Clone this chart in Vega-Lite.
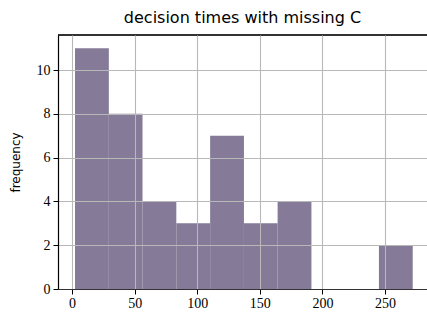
{
  "$schema": "https://vega.github.io/schema/vega-lite/v6.json",
  "autosize": "none",
  "padding": {"left": 58, "top": 35, "right": 0, "bottom": 27},
  "width": 369,
  "height": 254,
  "background": "white",
  "title": {"text": "decision times with missing C", "font": "DejaVu Sans", "fontSize": 16, "fontWeight": "normal", "color": "black", "offset": 8, "anchor": "middle"},
  "config": {"view": {"stroke": null}},
  "data": {"values": [
    {"bin_start": 2.4, "bin_end": 29.4, "count": 11},
    {"bin_start": 29.4, "bin_end": 56.3, "count": 8},
    {"bin_start": 56.3, "bin_end": 83.3, "count": 4},
    {"bin_start": 83.3, "bin_end": 110.3, "count": 3},
    {"bin_start": 110.3, "bin_end": 137.3, "count": 7},
    {"bin_start": 137.3, "bin_end": 164.2, "count": 3},
    {"bin_start": 164.2, "bin_end": 191.2, "count": 4},
    {"bin_start": 191.2, "bin_end": 218.2, "count": 0},
    {"bin_start": 218.2, "bin_end": 245.1, "count": 0},
    {"bin_start": 245.1, "bin_end": 272.1, "count": 2}
  ]},
  "layer": [
    {
      "mark": {"type": "rect", "color": "#857a97", "opacity": 1},
      "encoding": {
        "x": {"field": "bin_start", "type": "quantitative",
          "scale": {"domain": [-11.2, 283.5], "nice": false, "zero": false},
          "axis": {"title": null, "values": [0, 50, 100, 150, 200, 250], "zindex": 1,
            "grid": true, "gridColor": "#b8b8b8", "gridWidth": 1.1,
            "domainColor": "#333333", "domainWidth": 1.2, "tickColor": "black", "tickSize": 5, "tickWidth": 1,
            "labelFont": "Liberation Serif", "labelFontSize": 14, "labelColor": "black", "labelPadding": 2}},
        "x2": {"field": "bin_end"},
        "y": {"field": "count", "type": "quantitative",
          "scale": {"domain": [0, 11.6], "nice": false},
          "axis": {"title": "frequency", "values": [0, 2, 4, 6, 8, 10], "zindex": 1,
            "grid": true, "gridColor": "#b8b8b8", "gridWidth": 1.1,
            "domainColor": "black", "domainWidth": 1.2, "tickColor": "black", "tickSize": 5, "tickWidth": 1,
            "labelFont": "Liberation Serif", "labelFontSize": 14, "labelColor": "black", "labelPadding": 3,
            "titleFont": "DejaVu Sans", "titleFontSize": 12, "titleFontWeight": "normal", "titleColor": "black", "titlePadding": 14}},
        "y2": {"datum": 0}
      }
    },
    {
      "mark": {"type": "rule", "color": "#333333", "strokeWidth": 1.2},
      "encoding": {"y": {"datum": 11.6, "type": "quantitative"}}
    }
  ]
}
